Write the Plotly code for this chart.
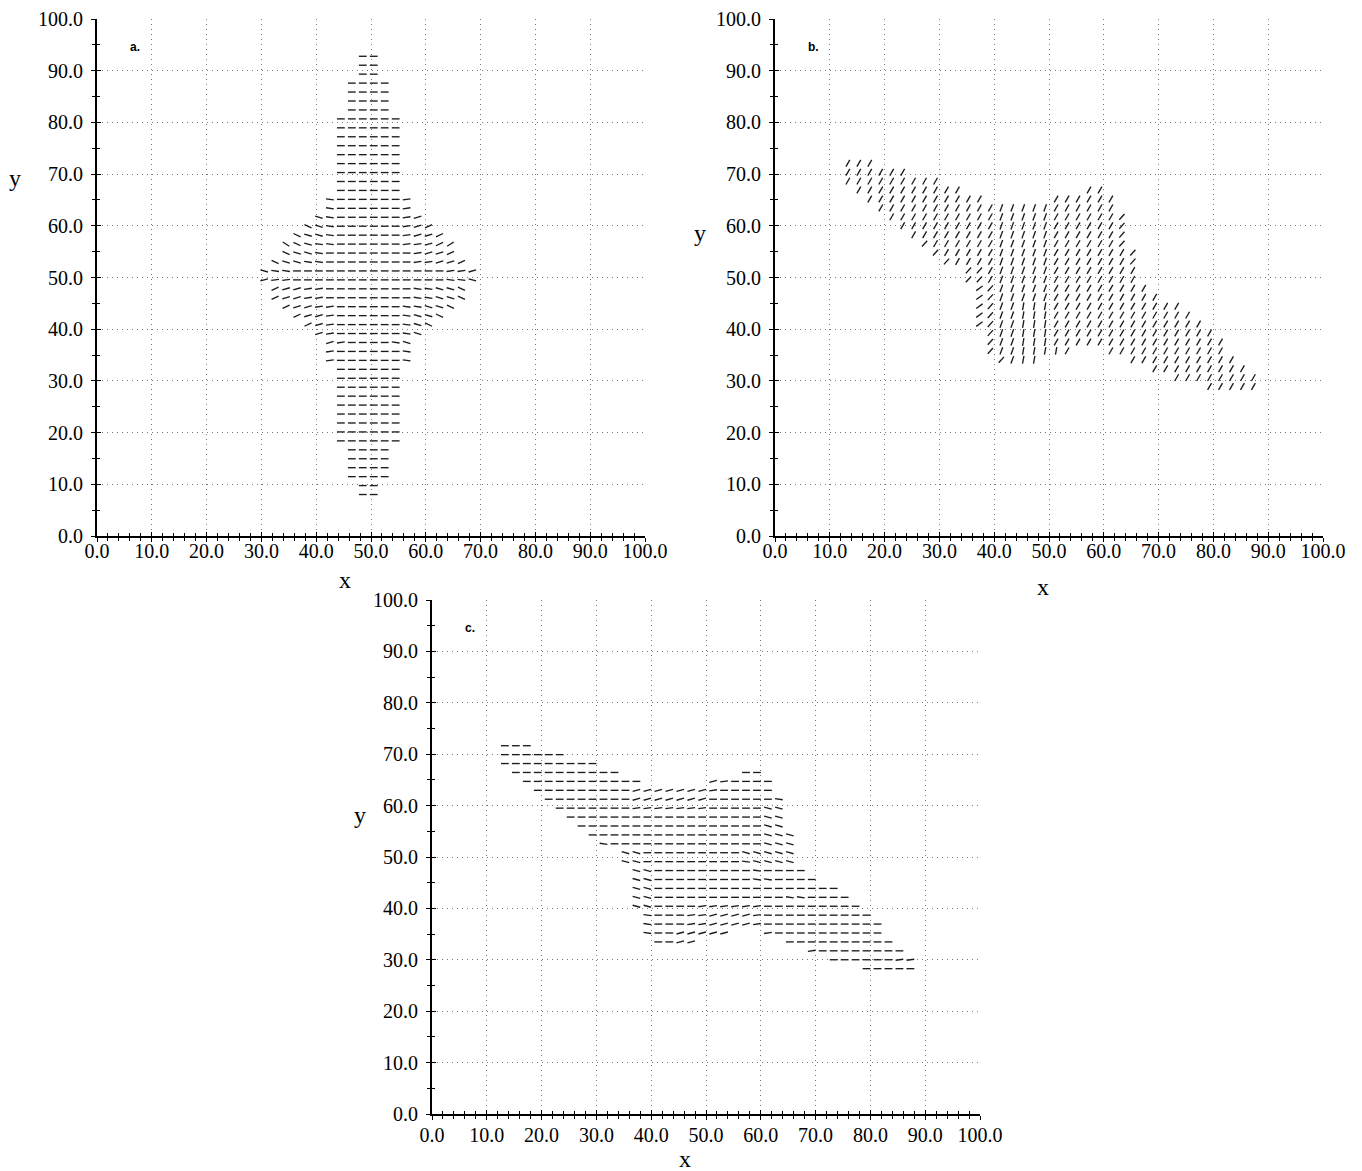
import math
import plotly.graph_objects as go

W, H = 1362, 1171

# ---------------- data: director fields ----------------
# Each row: list of (first column index, pattern); one char per lattice column,
# the char names the segment orientation class.

# panel a: columns x = A_COL0 + A_DCOL*i, rows from top (y = A_ROW_TOP - A_DROW*r)
A_COL0, A_DCOL = 0.5, 2.0
A_ROW_TOP, A_DROW = 92.79, 1.73
A_ANGLE = {'-': 0, 'a': 8, 'b': 16, 'c': 25, 'd': 33,
           'A': -8, 'B': -16, 'C': -25, 'D': -33}
A_ROWS = (
    [[(24, "--")]] * 3 +
    [[(23, "----")]] * 4 +
    [[(22, "------")]] * 9 +
    [[(21, "A------a")]] * 2 +
    [[(20, "BA------ab")],
     [(19, "CBA------abc")],
     [(18, "CBBA------abbc")],
     [(17, "DCBAA------aabcd")],
     [(17, "CBBA--------abbc")],
     [(16, "CBBAA--------aabbc")],
     [(15, "BAA--------------aab")],
     [(15, "baa--------------AAB")],
     [(16, "cbbaa--------AABBC")],
     [(16, "cbbaa--------AABBC")],
     [(17, "cbbaa------AABBC")],
     [(18, "cbba------ABBC")],
     [(19, "cba------ABC")],
     [(20, "ba------AB")],
     [(21, "ba----AB")],
     [(21, "a------A")],
     [(21, "a------A")]] +
    [[(22, "------")]] * 9 +
    [[(23, "----")]] * 4 +
    [[(24, "--")]] * 2
)

# panel b: columns x = B_COL0 + B_DCOL*i
B_COL0, B_DCOL = 1.3, 2.0
B_ROW_TOP, B_DROW = 72.1, 1.728
B_ANGLE = {'/': 60, 'u': 70, 'v': 80, 'k': 48, 'j': 36}
B_ROWS = [
    [(6, "/" * 3)],
    [(6, "/" * 6)],
    [(6, "/" * 9)],
    [(7, "/" * 10), (28, "//")],
    [(8, "/" * 11), (25, "/" * 6)],
    [(9, "/" * 11 + "u" * 5 + "/" * 6)],
    [(10, "/" * 10 + "u" * 5 + "/" * 6 + "k")],
    [(11, "/" * 9 + "u" * 5 + "/" * 6 + "k")],
    [(12, "/" * 8 + "u" * 5 + "/" * 6 + "k")],
    [(13, "k" + "/" * 6 + "u" * 5 + "/" * 6 + "k")],
    [(14, "k" + "/" * 5 + "u" * 5 + "/" * 7 + "k")],
    [(15, "k" + "/" * 4 + "u" * 5 + "/" * 7 + "k")],
    [(17, "kk/" + "u" * 5 + "/" * 8)],
    [(17, "kk/" + "u" * 5 + "/" * 8)],
    [(18, "jk" + "u" * 5 + "/" * 9)],
    [(18, "jk" + "u" * 5 + "/" * 10)],
    [(18, "jk" + "uuvvv" + "/" * 12)],
    [(18, "jk" + "uuvvv" + "/" * 13)],
    [(18, "jk" + "uuvvv" + "/" * 14)],
    [(19, "k" + "uuvvv" + "/" * 15)],
    [(19, "k" + "uuvvv" + "/" * 16)],
    [(19, "kuuvvvv/"), (30, "/" * 11)],
    [(20, "kuvv"), (32, "/" * 10)],
    [(34, "/" * 9)],
    [(36, "/" * 8)],
    [(39, "/" * 5)],
]

# panel c: same lattice as b, nearly horizontal directors
C_COL0, C_DCOL = 1.3, 2.0
C_ROW_TOP, C_DROW = 71.65, 1.735
C_ANGLE = {'-': 0, 'a': 8, 'b': 15, 'A': -8, 'B': -15}
C_ROWS = [
    [(6, "-" * 3)],
    [(6, "-" * 6)],
    [(6, "-" * 9)],
    [(7, "-" * 10), (28, "--")],
    [(8, "-" * 11), (25, "ba----")],
    [(9, "-" * 9 + "b" * 7 + "a" + "-" * 5)],
    [(10, "-" * 8 + "b" * 7 + "-" * 6 + "A")],
    [(11, "-" * 7 + "a" * 7 + "-" * 5 + "BB")],
    [(12, "-" * 18 + "BB")],
    [(13, "-" * 17 + "BB")],
    [(14, "-" * 16 + "BBB")],
    [(15, "A" + "-" * 14 + "BBB")],
    [(17, "BB" + "-" * 9 + "BBBBB")],
    [(17, "BB" + "-" * 9 + "ABBBB")],
    [(18, "BB" + "-" * 9 + "A" + "-" * 4)],
    [(18, "BB" + "-" * 9 + "AA" + "-" * 4)],
    [(18, "BB" + "-" * 17)],
    [(18, "BB" + "-" * 12 + "AA" + "-" * 4)],
    [(18, "BB" + "-" * 4 + "a" * 6 + "-" * 9)],
    [(19, "A" + "-" * 3 + "aabbbba" + "-" * 10)],
    [(19, "A" + "-" * 3 + "aabbbba" + "-" * 11)],
    [(19, "A--bbbbb"), (30, "a" + "-" * 10)],
    [(20, "--bb"), (32, "-" * 10)],
    [(34, "a" + "-" * 8)],
    [(36, "-" * 6 + "aa")],
    [(39, "-" * 5)],
]

TICK_LABELS = ["%.1f" % v for v in range(0, 101, 10)]
TICK_VALUES = list(range(0, 101, 10))

# ---------------- layout geometry (pixels) ----------------
PANELS = [
    dict(key="a", xs="", px=(97, 645), py=(19, 536), rows=A_ROWS, ang=A_ANGLE,
         col0=A_COL0, dcol=A_DCOL, top=A_ROW_TOP, drow=A_DROW,
         ylab=(15, 178), xlab=(345, 580), xstand=1),
    dict(key="b", xs="2", px=(775, 1323), py=(19, 536), rows=B_ROWS, ang=B_ANGLE,
         col0=B_COL0, dcol=B_DCOL, top=B_ROW_TOP, drow=B_DROW,
         ylab=(700, 233), xlab=(1043, 587), xstand=1),
    dict(key="c", xs="3", px=(432, 980), py=(600, 1114), rows=C_ROWS, ang=C_ANGLE,
         col0=C_COL0, dcol=C_DCOL, top=C_ROW_TOP, drow=C_DROW,
         ylab=(360, 815), xlab=(685, 1159), xstand=7),
]
SEG_HALF_PX = 3.9

fig = go.Figure()
layout = dict(width=W, height=H, margin=dict(l=0, r=0, t=0, b=0, autoexpand=False),
              paper_bgcolor="white", plot_bgcolor="white", showlegend=False)
annotations = []

serif = "Liberation Serif, Times New Roman, serif"
tickfont = dict(family=serif, size=20, color="black")
# main axes: outward half of the ticks, axis line and dotted grid
base_axis = dict(range=[0, 100], autorange=False, fixedrange=True, automargin=False,
                 tickmode="array", tickvals=TICK_VALUES, showticklabels=False,
                 showline=True, linecolor="black", linewidth=1.6,
                 ticks="outside", ticklen=4, tickwidth=1.3, tickcolor="black",
                 showgrid=True, gridcolor="#777", gridwidth=1, griddash="1px,4px",
                 zeroline=False)
# overlay axes: inward half of the ticks plus the tick labels
over_axis = dict(range=[0, 100], autorange=False, fixedrange=True, automargin=False,
                 tickmode="array", tickvals=TICK_VALUES, ticktext=TICK_LABELS,
                 tickfont=tickfont, showticklabels=True,
                 showline=False, showgrid=False, zeroline=False,
                 ticks="inside", ticklen=4, tickwidth=1.3, tickcolor="black")

for idx, p in enumerate(PANELS):
    sx = (p["px"][1] - p["px"][0]) / 100.0
    sy = (p["py"][1] - p["py"][0]) / 100.0
    xs, ys = [], []
    for r, row in enumerate(p["rows"]):
        yc = p["top"] - p["drow"] * r
        for start, pat in row:
            for k, ch in enumerate(pat):
                if ch == " ":
                    continue
                xc = p["col0"] + p["dcol"] * (start + k)
                th = math.radians(p["ang"][ch])
                dx = SEG_HALF_PX * math.cos(th) / sx
                dy = SEG_HALF_PX * math.sin(th) / sy
                xs += [xc - dx, xc + dx, None]
                ys += [yc - dy, yc + dy, None]
    s = p["xs"]
    o = str(4 + idx)
    fig.add_trace(go.Scatter(x=xs, y=ys, mode="lines",
                             line=dict(color="#1c1c1c", width=1.35),
                             xaxis="x" + s, yaxis="y" + s, hoverinfo="skip"))
    # empty trace so the overlay axes get drawn
    fig.add_trace(go.Scatter(x=[], y=[], mode="lines", xaxis="x" + o, yaxis="y" + o,
                             hoverinfo="skip"))
    xdom = [p["px"][0] / W, p["px"][1] / W]
    ydom = [1 - p["py"][1] / H, 1 - p["py"][0] / H]
    layout["xaxis" + s] = dict(base_axis, domain=xdom, anchor="y" + s,
                               minor=dict(dtick=2, tick0=0, ticks="outside", ticklen=3,
                                          tickcolor="black", tickwidth=1, showgrid=False))
    layout["yaxis" + s] = dict(base_axis, domain=ydom, anchor="x" + s,
                               minor=dict(dtick=5, tick0=0, ticks="outside", ticklen=3,
                                          tickcolor="black", tickwidth=1, showgrid=False))
    layout["xaxis" + o] = dict(over_axis, overlaying="x" + s, anchor="y" + o,
                               ticklabelstandoff=p["xstand"],
                               minor=dict(dtick=2, tick0=0, ticks="inside", ticklen=3,
                                          tickcolor="black", tickwidth=1, showgrid=False))
    layout["yaxis" + o] = dict(over_axis, overlaying="y" + s, anchor="x" + o,
                               ticklabelstandoff=13,
                               minor=dict(dtick=5, tick0=0, ticks="inside", ticklen=3,
                                          tickcolor="black", tickwidth=1, showgrid=False))
    for txt, pos in (("y", p["ylab"]), ("x", p["xlab"])):
        annotations.append(dict(text=txt, xref="paper", yref="paper",
                                x=pos[0] / W, y=1 - pos[1] / H,
                                xanchor="center", yanchor="middle",
                                showarrow=False,
                                font=dict(family=serif, size=24, color="black")))
    annotations.append(dict(text="<b>%s.</b>" % p["key"], xref="x" + s, yref="y" + s,
                            x=7.0, y=94.6, showarrow=False,
                            xanchor="center", yanchor="middle",
                            font=dict(family="Liberation Sans, Arial, sans-serif", size=12,
                                      color="black")))

layout["annotations"] = annotations
fig.update_layout(**layout)
fig.write_html("out.html")
